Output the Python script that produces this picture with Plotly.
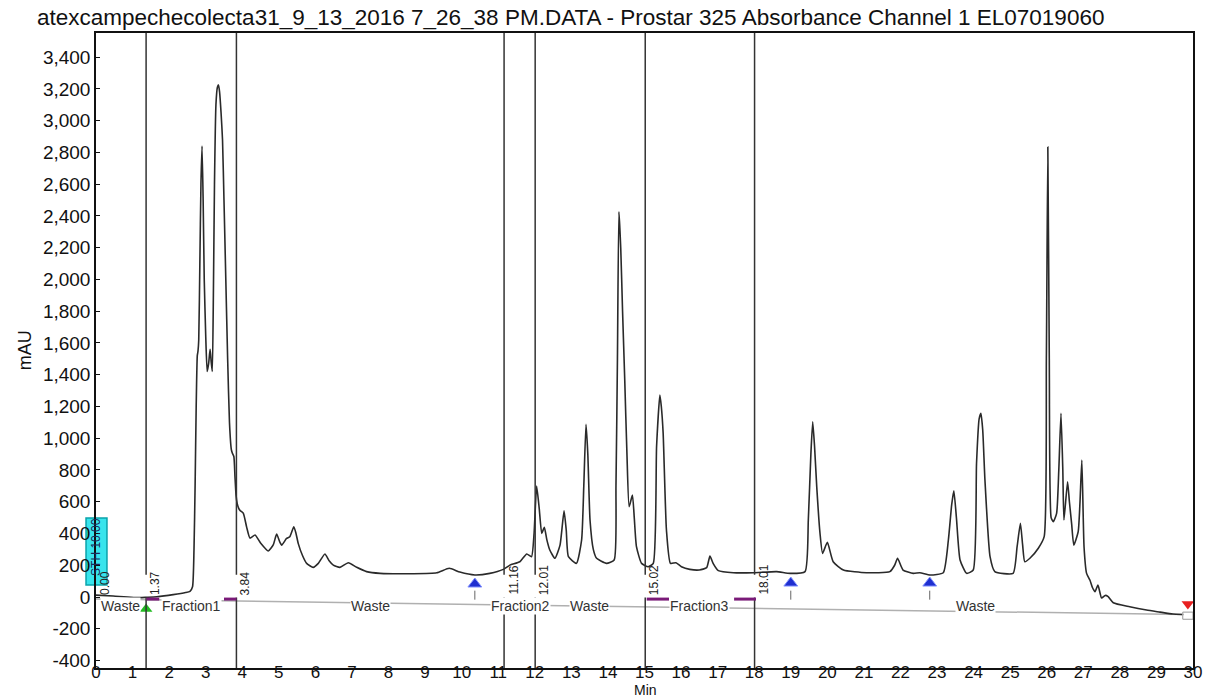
import plotly.graph_objects as go

# ---------------- data ----------------
time_min = [
    0.00, 0.47, 1.20, 1.37, 1.66, 2.11, 2.45, 2.57, 2.64, 2.68, 2.71, 2.74, 2.77, 2.79,
    2.81, 2.84, 2.87, 2.90, 2.93, 2.96, 3.00, 3.04, 3.08, 3.12, 3.15, 3.18, 3.21, 3.24,
    3.28, 3.32, 3.35, 3.38, 3.42, 3.46, 3.50, 3.55, 3.60, 3.65, 3.70, 3.73, 3.77, 3.80,
    3.83, 3.86, 3.90, 3.94, 4.03, 4.12, 4.21, 4.35, 4.50, 4.71, 4.85, 4.94, 5.02, 5.08,
    5.21, 5.30, 5.41, 5.47, 5.53, 5.65, 5.76, 5.94, 6.08, 6.26, 6.37, 6.49, 6.67, 6.90,
    7.13, 7.40, 7.77, 8.68, 9.32, 9.66, 9.95, 10.36, 10.77, 11.14, 11.32, 11.59, 11.78,
    11.91, 11.98, 12.05, 12.12, 12.19, 12.26, 12.33, 12.41, 12.55, 12.69, 12.80, 12.86,
    12.92, 13.14, 13.28, 13.34, 13.40, 13.45, 13.51, 13.60, 13.69, 13.96, 14.17, 14.22,
    14.26, 14.30, 14.35, 14.40, 14.46, 14.52, 14.58, 14.67, 14.72, 14.78, 14.92, 15.10,
    15.24, 15.33, 15.42, 15.46, 15.51, 15.60, 15.71, 15.86, 16.01, 16.24, 16.50, 16.70,
    16.79, 16.88, 17.02, 17.43, 17.98, 18.61, 18.98, 19.39, 19.48, 19.55, 19.60, 19.65,
    19.71, 19.80, 19.87, 20.00, 20.16, 20.44, 21.07, 21.71, 21.84, 21.92, 22.07, 22.35,
    22.53, 22.81, 23.17, 23.31, 23.40, 23.46, 23.53, 23.63, 23.81, 23.99, 24.08, 24.15,
    24.20, 24.25, 24.31, 24.45, 24.58, 25.08, 25.19, 25.28, 25.34, 25.40, 25.54, 25.77,
    25.93, 25.99, 26.03, 26.07, 26.12, 26.18, 26.27, 26.33, 26.39, 26.44, 26.47, 26.57,
    26.62, 26.68, 26.74, 26.86, 26.91, 26.96, 27.02, 27.09, 27.18, 27.25, 27.32, 27.40,
    27.50, 27.60, 27.68, 27.82, 28.27, 28.73, 29.10, 29.45, 29.70,
]
absorbance_mau = [
    12, 6, -4, -2, 2, 15, 28, 36, 65, 300, 700, 1200, 1520, 1550,
    1620, 2100, 2600, 2840, 2500, 2000, 1650, 1420, 1470, 1560, 1480, 1420, 1900, 2600,
    3100, 3210, 3225, 3180, 3050, 2880, 2500, 2000, 1500, 1100, 930, 905, 885, 760,
    640, 590, 560, 545, 527, 440, 371, 390, 340, 290, 330, 397, 350, 327,
    369, 380, 443, 400, 338, 260, 212, 187, 212, 271, 230, 201, 187, 216,
    187, 160, 149, 147, 153, 181, 157, 139, 149, 174, 201, 222, 271,
    254, 400, 699, 560, 401, 439, 360, 296, 244, 327, 543, 420,
    254, 212, 359, 700, 1087, 900, 485, 300, 244, 212, 233, 700,
    1500, 2426, 2200, 1800, 1366, 900, 569, 642, 500, 317, 212, 191,
    212, 946, 1272, 1200, 1032, 422, 212, 216, 191, 174, 170, 185,
    258, 210, 166, 153, 153, 160, 149, 160, 485, 900, 1104, 950,
    695, 400, 275, 344, 222, 170, 153, 160, 200, 244, 170, 149,
    153, 139, 153, 359, 580, 669, 500, 233, 149, 170, 842, 1120,
    1157, 1050, 737, 254, 160, 149, 317, 464, 330, 222, 244, 307,
    380, 1500, 2834, 1500, 500, 474, 527, 800, 1157, 800, 485, 726,
    600, 464, 327, 411, 600, 863, 317, 149, 107, 60, 33, 76,
    -6, 10, 2, -36, -61, -82, -95, -107, -110,
]

# fraction-collector events
event_times = [0.00, 1.37, 3.84, 11.16, 12.01, 15.02, 18.01]
event_labels = ["0.00", "1.37", "3.84", "11.16", "12.01", "15.02", "18.01"]

segment_labels = ["Waste", "Fraction1", "Waste", "Fraction2", "Waste", "Fraction3", "Waste"]
segment_centers = [0.68, 2.60, 7.52, 11.60, 13.50, 16.50, 24.04]

fraction_bar_start = [1.38, 3.50, 15.06, 17.45]
fraction_bar_end = [1.73, 3.84, 15.67, 18.05]

baseline_t = [0.0, 29.75]
baseline_y = [-13, -110]

peak_marker_t = [10.36, 19.00, 22.80]
peak_marker_y = [82, 88, 88]

y_ticks = list(range(-400, 3401, 200))
y_ticktext = [f"{v:,}" if v >= 0 else f"-{abs(v):,}" for v in y_ticks]
x_ticks = list(range(0, 31))

Y_MIN, Y_MAX = -447, 3552
FONT = "Liberation Sans, Arial, sans-serif"

# ---------------- figure ----------------
fig = go.Figure()

# baseline
fig.add_trace(go.Scatter(x=baseline_t, y=baseline_y, mode="lines",
                         line=dict(color="#b0b0b0", width=1.5), hoverinfo="skip"))

# chromatogram trace
fig.add_trace(go.Scatter(x=time_min, y=absorbance_mau, mode="lines",
                         line=dict(color="#2a2a2a", width=1.6, shape="spline", smoothing=0.5),
                         hoverinfo="skip"))

shapes = []
# event lines with a gap where the label sits
for t in event_times:
    if t <= 0:
        continue
    shapes.append(dict(type="line", xref="x", yref="y", x0=t, x1=t, y0=Y_MAX, y1=140,
                       line=dict(color="#333333", width=1.5)))
    shapes.append(dict(type="line", xref="x", yref="y", x0=t, x1=t, y0=-3, y1=Y_MIN,
                       line=dict(color="#333333", width=1.5)))
# purple fraction bars
for a, b in zip(fraction_bar_start, fraction_bar_end):
    shapes.append(dict(type="line", xref="x", yref="y", x0=a, x1=b, y0=-13, y1=-13,
                       line=dict(color="#7a1a78", width=3)))
# dashed stems under peak markers
for t in peak_marker_t:
    shapes.append(dict(type="line", xref="x", yref="y", x0=t, x1=t, y0=40, y1=-70,
                       line=dict(color="#666666", width=1, dash="dash")))
# cyan threshold box (outside the plot on the left)
shapes.append(dict(type="rect", xref="paper", yref="paper",
                   x0=-0.0091, x1=0.0100, y0=0.1307, y1=0.2362,
                   fillcolor="#38e4ec", line=dict(color="#0aa3ab", width=1.5), layer="below"))
# small end box near 30 min
shapes.append(dict(type="rect", xref="x", yref="y", x0=29.72, x1=30.0, y0=-95, y1=-140,
                   line=dict(color="#999999", width=1)))

# markers
fig.add_trace(go.Scatter(x=peak_marker_t, y=peak_marker_y, mode="markers",
                         marker=dict(symbol="triangle-up", size=12, color="#1f2fd0",
                                     line=dict(color="#8090ff", width=1)),
                         hoverinfo="skip", cliponaxis=False))
fig.add_trace(go.Scatter(x=[1.37], y=[-76], mode="markers",
                         marker=dict(symbol="triangle-up", size=11, color="#22bb22"),
                         hoverinfo="skip", cliponaxis=False))
fig.add_trace(go.Scatter(x=[29.86], y=[-44], mode="markers",
                         marker=dict(symbol="triangle-down", size=11, color="#e82020"),
                         hoverinfo="skip", cliponaxis=False))

annotations = []
for t, lab in zip(event_times, event_labels):
    annotations.append(dict(x=t, y=0, xref="x", yref="y", text=lab, showarrow=False,
                            textangle=-90, xanchor="center", yanchor="bottom", xshift=9,
                            font=dict(family=FONT, size=12, color="#222222")))
for c, lab in zip(segment_centers, segment_labels):
    annotations.append(dict(x=c, y=-57, xref="x", yref="y", text=lab, showarrow=False,
                            xanchor="center", yanchor="middle", bgcolor="white",
                            borderpad=0,
                            font=dict(family=FONT, size=14, color="#333333")))
annotations.append(dict(x=0.0005, y=0.1900, xref="paper", yref="paper", text="STH 10.00",
                        showarrow=False, textangle=-90, xanchor="center", yanchor="middle",
                        font=dict(family=FONT, size=12, color="#1a2a5a")))
annotations.append(dict(x=-0.065, y=0.50, xref="paper", yref="paper", text="mAU",
                        showarrow=False, textangle=-90, xanchor="center", yanchor="middle",
                        font=dict(family=FONT, size=18, color="#111111")))
annotations.append(dict(x=0.5005, y=-0.0504, xref="paper", yref="paper", text="Min",
                        showarrow=False, xanchor="center", yanchor="bottom",
                        font=dict(family=FONT, size=14, color="#111111")))

fig.update_layout(
    width=1210, height=700, autosize=False,
    margin=dict(l=96, r=17, t=33, b=32, autoexpand=False),
    paper_bgcolor="white", plot_bgcolor="white",
    showlegend=False,
    title=dict(text="atexcampechecolecta31_9_13_2016 7_26_38 PM.DATA - Prostar 325 Absorbance Channel 1 EL07019060",
               x=37 / 1210, xref="container", xanchor="left",
               y=1 - 17 / 700, yref="container", yanchor="middle",
               font=dict(family=FONT, size=22.5, color="#111111")),
    shapes=shapes, annotations=annotations,
    xaxis=dict(range=[0, 30], tickmode="array", tickvals=x_ticks,
               ticktext=[str(v) for v in x_ticks], automargin=False,
               showline=True, linecolor="#111111", linewidth=1.5, mirror=True,
               ticks="", ticklabelstandoff=-12,
               showgrid=False, zeroline=False,
               tickfont=dict(family=FONT, size=17, color="#111111")),
    yaxis=dict(range=[Y_MIN, Y_MAX], tickmode="array", tickvals=y_ticks, ticktext=y_ticktext,
               automargin=False,
               showline=True, linecolor="#111111", linewidth=1.5, mirror=True,
               ticks="inside", ticklen=4, tickcolor="#111111",
               showgrid=False, zeroline=False,
               tickfont=dict(family=FONT, size=19, color="#111111")),
)

fig.write_html("out.html", config={"displayModeBar": False})
